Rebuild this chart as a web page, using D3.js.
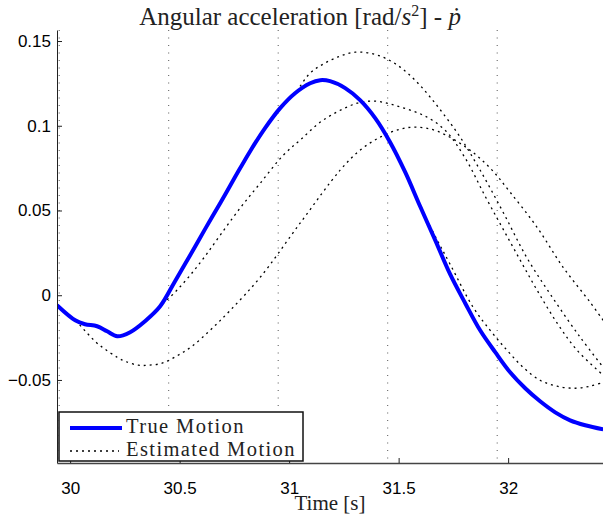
<!DOCTYPE html>
<html>
<head>
<meta charset="utf-8">
<script src="https://cdn.jsdelivr.net/npm/d3@7"></script>
<style>
  body { margin: 0; background: #fff; }
  svg text { font-family: "Liberation Sans", Arial, sans-serif; }
  .serif { font-family: "Liberation Serif", "Times New Roman", serif !important; }
</style>
</head>
<body>
<div id="chart"></div>
<script>
// ticks and the dotted vertical marker lines
const xTicks = [30, 30.5, 31, 31.5, 32];
const yTicks = [-0.05, 0, 0.05, 0.1, 0.15];
const markerTimes = [29.95, 30.45, 30.95, 31.45, 31.95];

// true motion
const tTrue = [29.94, 30.023, 30.068, 30.123, 30.169, 30.215, 30.274, 30.342, 30.411, 30.479, 30.548, 30.616, 30.685, 30.753, 30.822, 30.89, 30.959, 31.027, 31.096, 31.142, 31.187, 31.256, 31.324, 31.393, 31.461, 31.53, 31.598, 31.667, 31.735, 31.804, 31.872, 31.941, 32.009, 32.078, 32.146, 32.215, 32.283, 32.352, 32.434];
const vTrue = [-0.0059, -0.0148, -0.0171, -0.0183, -0.0213, -0.0242, -0.0218, -0.0153, -0.0065, 0.0083, 0.0236, 0.039, 0.0543, 0.0697, 0.085, 0.0986, 0.1104, 0.1192, 0.1251, 0.1269, 0.1263, 0.1222, 0.1151, 0.1045, 0.0903, 0.0726, 0.0525, 0.0325, 0.0124, -0.0047, -0.0207, -0.0336, -0.0455, -0.0549, -0.0626, -0.0691, -0.0738, -0.0767, -0.0791];

// estimated motions (four estimates)
const tEst1 = [29.94, 30.023, 30.068, 30.123, 30.169, 30.215, 30.274, 30.342, 30.411, 30.479, 30.548, 30.616, 30.685, 30.753, 30.822, 30.89, 30.959, 31.027, 31.096, 31.164, 31.233, 31.301, 31.37, 31.438, 31.507, 31.575, 31.644, 31.712, 31.781, 31.872, 31.977, 32.087, 32.205, 32.329, 32.434];
const vEst1 = [-0.0059, -0.0148, -0.0171, -0.0183, -0.0213, -0.0242, -0.0218, -0.0153, -0.0065, 0.0083, 0.0236, 0.039, 0.0543, 0.0697, 0.085, 0.0986, 0.1104, 0.1192, 0.1311, 0.137, 0.1411, 0.1434, 0.1428, 0.1399, 0.1346, 0.1269, 0.1169, 0.1057, 0.0933, 0.0738, 0.049, 0.0218, -0.0018, -0.0248, -0.0425];

const tEst2 = [29.94, 30.023, 30.068, 30.123, 30.169, 30.215, 30.274, 30.342, 30.411, 30.479, 30.548, 30.616, 30.685, 30.776, 30.868, 30.973, 31.05, 31.155, 31.311, 31.393, 31.461, 31.539, 31.621, 31.712, 31.804, 31.895, 31.977, 32.055, 32.132, 32.224, 32.315, 32.434];
const vEst2 = [-0.0059, -0.0148, -0.0171, -0.0183, -0.0213, -0.0242, -0.0218, -0.0153, -0.0065, 0.0018, 0.0118, 0.023, 0.0354, 0.0514, 0.0661, 0.0826, 0.0915, 0.1033, 0.1133, 0.1145, 0.1128, 0.1098, 0.1057, 0.0974, 0.0809, 0.0584, 0.039, 0.0207, 0.003, -0.0165, -0.0325, -0.0472];

const tEst3 = [29.94, 30.023, 30.078, 30.123, 30.16, 30.215, 30.251, 30.311, 30.356, 30.42, 30.493, 30.557, 30.639, 30.731, 30.868, 31.05, 31.233, 31.324, 31.416, 31.507, 31.584, 31.676, 31.813, 31.918, 32.009, 32.132, 32.251, 32.374, 32.434];
const vEst3 = [-0.0059, -0.0148, -0.0224, -0.0283, -0.0319, -0.0366, -0.039, -0.0413, -0.0413, -0.0401, -0.0354, -0.0301, -0.0207, -0.0089, 0.0106, 0.0425, 0.0738, 0.0856, 0.0933, 0.098, 0.0992, 0.0968, 0.0868, 0.075, 0.0608, 0.0401, 0.0165, -0.0041, -0.0148];

const tEst4 = [29.94, 30.023, 30.068, 30.123, 30.169, 30.215, 30.274, 30.342, 30.411, 30.479, 30.548, 30.616, 30.685, 30.753, 30.822, 30.89, 30.959, 31.027, 31.096, 31.142, 31.187, 31.256, 31.324, 31.393, 31.461, 31.53, 31.598, 31.667, 31.735, 31.84, 31.918, 31.995, 32.068, 32.146, 32.224, 32.306, 32.374, 32.434];
const vEst4 = [-0.0059, -0.0148, -0.0171, -0.0183, -0.0213, -0.0242, -0.0218, -0.0153, -0.0065, 0.0083, 0.0236, 0.039, 0.0543, 0.0697, 0.085, 0.0986, 0.1104, 0.1192, 0.1251, 0.1269, 0.1263, 0.1222, 0.1151, 0.1045, 0.0903, 0.0726, 0.0525, 0.0348, 0.0183, -0.0071, -0.0207, -0.0325, -0.0425, -0.0502, -0.0537, -0.0549, -0.0537, -0.0514];

const legendLabels = ["True Motion", "Estimated Motion"];

function main() {
  const W = 603, H = 514;
  const margin = {top: 30, right: -1.5, bottom: 51, left: 57};

  const svg = d3.select("#chart")
    .append("svg")
    .attr("width", W)
    .attr("height", H);

  const x = d3.scaleLinear()
    .domain([29.94, 32.44])
    .range([margin.left, W - margin.right]);
  const y = d3.scaleLinear()
    .domain([-0.099, 0.1565])
    .range([H - margin.bottom, margin.top]);

  svg.append("clipPath").attr("id", "plotclip")
    .append("rect")
    .attr("x", margin.left).attr("y", margin.top)
    .attr("width", W - margin.left).attr("height", H - margin.bottom - margin.top);

  // dotted vertical markers
  svg.append("g")
    .selectAll("line")
    .data(markerTimes)
    .join("line")
    .attr("x1", d => x(d)).attr("x2", d => x(d))
    .attr("y1", y.range()[1]).attr("y2", y.range()[0])
    .attr("stroke", "#555")
    .attr("stroke-width", 1)
    .attr("stroke-dasharray", "1,6.5");

  const line = d3.line()
    .x(d => x(d[0]))
    .y(d => y(d[1]))
    .curve(d3.curveCatmullRom.alpha(0.5));

  const estimates = [[tEst1, vEst1], [tEst2, vEst2], [tEst3, vEst3], [tEst4, vEst4]]
    .map(([t, v]) => t.map((d, i) => [d, v[i]]));

  const plot = svg.append("g").attr("clip-path", "url(#plotclip)");

  plot.selectAll(".est")
    .data(estimates)
    .join("path")
    .attr("class", "est")
    .attr("d", line)
    .attr("fill", "none")
    .attr("stroke", "#000")
    .attr("stroke-width", 1.3)
    .attr("stroke-dasharray", "2,4");

  plot.append("path")
    .datum(tTrue.map((d, i) => [d, vTrue[i]]))
    .attr("d", line)
    .attr("fill", "none")
    .attr("stroke", "#0000ff")
    .attr("stroke-width", 4);

  // axes
  const yAxis = svg.append("g")
    .attr("transform", `translate(${margin.left},0)`)
    .call(d3.axisLeft(y)
      .tickValues(yTicks)
      .tickSizeInner(-5)
      .tickSizeOuter(0)
      .tickPadding(6)
      .tickFormat(d => String(d).replace("-", "\u2212")));

  const xAxis = svg.append("g")
    .attr("transform", `translate(0,${H - margin.bottom})`)
    .call(d3.axisBottom(x)
      .tickValues(xTicks)
      .tickSizeInner(-5)
      .tickSizeOuter(0)
      .tickPadding(19)
      .tickFormat(d => String(d)));

  [yAxis, xAxis].forEach(a => {
    a.selectAll("path, line").attr("stroke", "#222");
    a.selectAll("text").attr("font-size", 17).attr("fill", "#000");
  });
  xAxis.select(".domain").attr("stroke", "#444").attr("stroke-width", 1.5);

  // title
  const title = svg.append("text")
    .attr("class", "serif")
    .attr("x", 300).attr("y", 25)
    .attr("text-anchor", "middle")
    .attr("font-size", 25)
    .attr("fill", "#222");
  title.append("tspan").text("Angular acceleration [rad/");
  title.append("tspan").attr("font-style", "italic").text("s");
  title.append("tspan").attr("font-size", 16).attr("dy", -9).text("2");
  title.append("tspan").attr("dy", 9).text("] - ");
  title.append("tspan").attr("font-style", "italic").text("\u1E57");

  svg.append("text")
    .attr("class", "serif")
    .attr("x", (margin.left + W) / 2).attr("y", 510)
    .attr("text-anchor", "middle")
    .attr("font-size", 21)
    .attr("fill", "#222")
    .text("Time [s]");

  // legend
  const lg = svg.append("g")
    .attr("transform", `translate(${margin.left + 2},${H - margin.bottom - 51})`);
  lg.append("rect")
    .attr("width", 244).attr("height", 49)
    .attr("fill", "#fff")
    .attr("stroke", "#111")
    .attr("stroke-width", 1.5);
  lg.append("line")
    .attr("x1", 11).attr("x2", 63).attr("y1", 16).attr("y2", 16)
    .attr("stroke", "#0000ff").attr("stroke-width", 4);
  lg.append("line")
    .attr("x1", 11).attr("x2", 60).attr("y1", 39).attr("y2", 39)
    .attr("stroke", "#000").attr("stroke-width", 1.3)
    .attr("stroke-dasharray", "2,4");
  lg.selectAll(".lt")
    .data(legendLabels)
    .join("text")
    .attr("class", "serif")
    .attr("x", 67)
    .attr("y", (d, i) => 21 + i * 23)
    .attr("font-size", 20.5)
    .attr("letter-spacing", 1.4)
    .attr("fill", "#222")
    .text(d => d);
}

main();
</script>
</body>
</html>
